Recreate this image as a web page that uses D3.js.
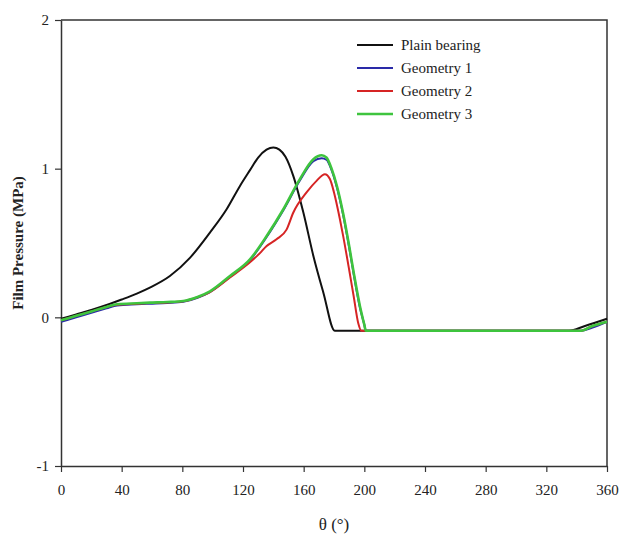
<!DOCTYPE html>
<html>
<head>
<meta charset="utf-8">
<script src="https://cdn.jsdelivr.net/npm/d3@7"></script>
<style>
  body { margin: 0; background: #fff; }
  text { font-family: "Liberation Serif", "Times New Roman", serif; }
</style>
</head>
<body>
<div class="canvas"></div>
<script>
// series data (theta in degrees, pressure in MPa)
const plainTheta = [0, 10, 20, 32, 40, 50, 58.6, 71.8, 85, 98.2, 109.2, 118, 124.6, 130, 135.5, 140, 144, 148, 153.2, 159.8, 166.4, 173, 180.5, 335, 345, 360]
const plainP = [-0.01, 0.02, 0.05, 0.09, 0.12, 0.16, 0.20, 0.278, 0.40, 0.57, 0.727, 0.884, 0.99, 1.075, 1.128, 1.143, 1.128, 1.08, 0.95, 0.705, 0.413, 0.166, -0.09, -0.09, -0.06, -0.01]

const geo1Theta = [0, 10, 20, 30, 37, 50, 58.6, 70, 80.6, 90, 98.2, 111.4, 124.6, 135.6, 146.6, 157.5, 166.4, 171.9, 175, 178.4, 182, 186, 190, 193, 197, 200, 201, 343, 350, 360]
const geo1P = [-0.03, 0.0, 0.03, 0.06, 0.08, 0.088, 0.092, 0.097, 0.105, 0.132, 0.17, 0.272, 0.385, 0.54, 0.72, 0.92, 1.05, 1.07, 1.06, 0.99, 0.87, 0.69, 0.47, 0.29, 0.07, -0.05, -0.09, -0.09, -0.07, -0.03]

const geo2Theta = [0, 10, 20, 30, 37, 50, 58.6, 70, 80.6, 90, 98.2, 111.4, 124.6, 131, 135.6, 142.1, 148.7, 153.2, 161.9, 168.5, 174, 177.3, 180, 183.9, 186, 190, 193, 196, 198, 343, 350, 360]
const geo2P = [-0.02, 0.01, 0.04, 0.07, 0.085, 0.092, 0.096, 0.1, 0.108, 0.135, 0.17, 0.268, 0.37, 0.43, 0.48, 0.525, 0.59, 0.705, 0.84, 0.918, 0.963, 0.93, 0.84, 0.66, 0.55, 0.32, 0.14, -0.04, -0.09, -0.09, -0.06, -0.03]

const geo3Theta = [0, 10, 20, 30, 37, 50, 58.6, 70, 80.6, 90, 98.2, 111.4, 124.6, 135.6, 146.6, 157.5, 166.4, 171.9, 175, 178.4, 182, 186, 190, 193, 197, 200, 201, 343, 350, 360]
const geo3P = [-0.02, 0.01, 0.04, 0.07, 0.088, 0.095, 0.099, 0.103, 0.11, 0.137, 0.175, 0.278, 0.39, 0.547, 0.727, 0.93, 1.064, 1.09, 1.075, 1.0, 0.88, 0.70, 0.48, 0.30, 0.08, -0.05, -0.09, -0.09, -0.06, -0.03]

const seriesNames = ['Plain bearing', 'Geometry 1', 'Geometry 2', 'Geometry 3']
const seriesColors = ['#111111', '#2a2aa8', '#d62424', '#3ec43e']
const seriesWidths = [2, 2, 2, 2.6]

const xTicks = [0, 40, 80, 120, 160, 200, 240, 280, 320, 360]
const yTicks = [-1, 0, 1, 2]

const series = [
    {theta: plainTheta, p: plainP},
    {theta: geo1Theta, p: geo1P},
    {theta: geo2Theta, p: geo2P},
    {theta: geo3Theta, p: geo3P}
].map((s, i) => ({
    name: seriesNames[i],
    color: seriesColors[i],
    width: seriesWidths[i],
    points: s.theta.map((t, j) => ({x: t, y: s.p[j]}))
}))

const margin = {top: 20, right: 21, bottom: 75, left: 61}
const dims = {width: 628 - margin.left - margin.right, height: 541 - margin.top - margin.bottom}

const svg = d3.select('.canvas').append('svg')
    .attr('width', 628)
    .attr('height', 541)

const graph = svg.append('g').attr('transform', `translate(${margin.left},${margin.top})`)

const x = d3.scaleLinear().domain([0, 360]).range([0, dims.width])
const y = d3.scaleLinear().domain([-1, 2]).range([dims.height, 0])

// frame on top and right
graph.append('path')
    .attr('fill', 'none')
    .attr('stroke', '#333')
    .attr('stroke-width', 1.5)
    .attr('d', `M0,0H${dims.width}V${dims.height}`)

const xAxis = graph.append('g')
    .attr('transform', `translate(0,${dims.height})`)
    .call(d3.axisBottom(x).tickValues(xTicks).tickSize(6).tickPadding(12).tickSizeOuter(0))

const yAxis = graph.append('g')
    .call(d3.axisLeft(y).tickValues(yTicks).tickSize(6).tickPadding(6).tickSizeOuter(0).tickFormat(d => String(d)))

;[xAxis, yAxis].forEach(ax => {
    ax.select('.domain').attr('stroke', '#333').attr('stroke-width', 1.5)
    ax.selectAll('.tick line').attr('stroke', '#333').attr('stroke-width', 1.2)
    ax.selectAll('.tick text').attr('fill', '#222').style('font-size', '15px')
        .style('font-family', '"Liberation Serif", serif')
})

const line = d3.line().x(d => x(d.x)).y(d => y(d.y)).curve(d3.curveMonotoneX)

graph.selectAll('.series').data(series).enter()
    .append('path')
    .attr('class', 'series')
    .attr('fill', 'none')
    .attr('stroke', d => d.color)
    .attr('stroke-width', d => d.width)
    .attr('stroke-linejoin', 'round')
    .attr('d', d => line(d.points))

// legend
const legend = svg.append('g').attr('transform', 'translate(357,45)')
const items = legend.selectAll('g').data(series).enter()
    .append('g').attr('transform', (d, i) => `translate(0,${i * 23})`)
items.append('line')
    .attr('x1', 0).attr('x2', 36)
    .attr('stroke', d => d.color)
    .attr('stroke-width', d => d.width)
items.append('text')
    .attr('x', 44).attr('dy', '0.35em')
    .style('font-size', '15px')
    .attr('fill', '#222')
    .text(d => d.name)

// axis titles
svg.append('text')
    .attr('transform', `translate(23,${margin.top + y(0.5)}) rotate(-90)`)
    .attr('text-anchor', 'middle')
    .style('font-size', '15px')
    .style('font-weight', 'bold')
    .attr('fill', '#222')
    .text('Film Pressure (MPa)')

svg.append('text')
    .attr('x', margin.left + x(180))
    .attr('y', 530)
    .attr('text-anchor', 'middle')
    .style('font-size', '17px')
    .attr('fill', '#222')
    .text('θ (°)')
</script>
</body>
</html>
